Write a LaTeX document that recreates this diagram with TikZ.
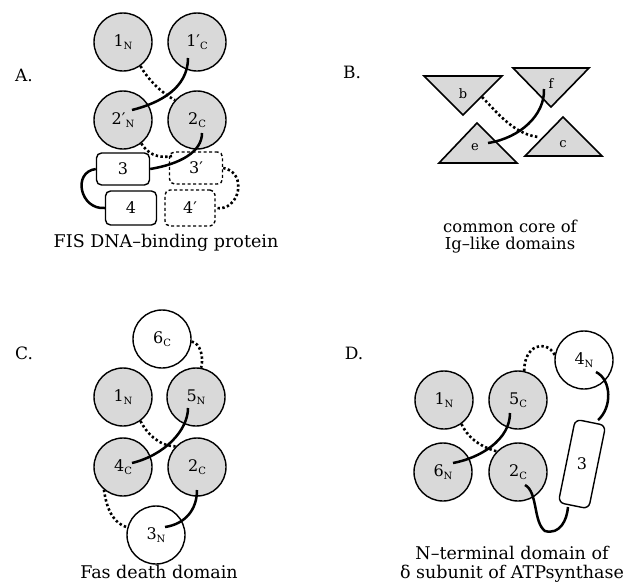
\documentclass[tikz,border=0pt]{standalone}
\usepackage{fontspec}
\setmainfont{DejaVu Serif}
\newcommand{\sbs}[1]{\raisebox{-0.35ex}{\fontsize{10}{10}\selectfont #1}}
\begin{document}
\begin{tikzpicture}[x=1pt,y=-1pt,
  dom/.style={circle, draw, line width=1.4pt, minimum size=58pt, inner sep=0pt, fill=gray!30, font=\fontsize{16}{16}\selectfont},
  wdom/.style={dom, fill=white},
  sbox/.style={draw, rounded corners=5pt, line width=1.4pt, minimum width=53pt, minimum height=32pt, inner sep=0pt, font=\fontsize{16}{16}\selectfont},
  dbox/.style={sbox, dash pattern=on 3pt off 2.5pt},
  lnk/.style={line width=2.5pt},
  dlnk/.style={line width=2.6pt, dash pattern=on 2.4pt off 2.4pt},
  tri/.style={draw, line width=1.6pt, fill=gray!30, line join=miter},
  tlab/.style={font=\fontsize{13}{13}\selectfont, inner sep=0pt},
  plab/.style={font=\fontsize{17}{17}\selectfont, inner sep=0pt},
  captxt/.style={font=\fontsize{17.5}{19}\selectfont, align=center, inner sep=0pt}
]
\useasboundingbox (0,0) rectangle (623,584);

% ---------------- Panel A ----------------
\node[plab] (labA) at (24,75) {A.};
\node[dom] (a1N) at (123,42) {1\sbs{N}};
\node[dom] (a1pC) at (197,42) {1′\sbs{C}};
\node[dom] (a2pN) at (123,120) {2′\sbs{N}};
\node[dom] (a2C) at (197,120) {2\sbs{C}};
\node[sbox] (a3) at (123,169) {3};
\node[sbox, minimum width=51pt, minimum height=34pt] (a4) at (131,208) {4};
\node[dbox] (a3p) at (196,168) {3′};
\node[dbox, minimum width=50pt, minimum height=36pt] (a4p) at (190,208) {4′};
\node[captxt] (capA) at (166,243) {FIS DNA–binding protein};

\coordinate (a1s) at (188,58);
\coordinate (a1e) at (132,110);
\coordinate (a2s) at (202,133);
\coordinate (a3e) at (172,156);
\draw[dlnk] (a1N.-54) .. controls (147,78) and (160,92) .. (a2C.138);
\draw[lnk] (a1s) .. controls (188,88) and (160,103) .. (a1e);
\draw[dlnk] (a2pN.-52) .. controls (147,153) and (157,159) .. (a3e);
\draw[lnk] (a2s) .. controls (202,152) and (180,164) .. (a3.east);
\draw[lnk] (a3.west) .. controls (72,172) and (80,210) .. (a4.west);
\draw[dlnk] (a3p.east) .. controls (248,172) and (240,212) .. (a4p.east);

% ---------------- Panel B ----------------
\node[plab] (labB) at (352,72) {B.};
\draw[tri] (424,76) -- (502,76) -- (463,115) -- cycle;
\draw[tri] (513,68) -- (589,68) -- (551,107) -- cycle;
\draw[tri] (439,163) -- (517,163) -- (477,123) -- cycle;
\draw[tri] (525,156) -- (602,156) -- (563,117) -- cycle;
\node[tlab] (tb) at (463,94) {b};
\node[tlab] (tf) at (551,84) {f};
\node[tlab] (te) at (475,147) {e};
\node[tlab] (tc) at (563,144) {c};
\coordinate (b1s) at (482,97);
\coordinate (b1e) at (538,137);
\coordinate (b2s) at (544,89);
\coordinate (b2e) at (488,143);
\draw[dlnk] (b1s) .. controls (495,110) and (513,134) .. (b1e);
\draw[lnk] (b2s) .. controls (545,115) and (520,138) .. (b2e);
\node[captxt, font=\fontsize{16.4}{17}\selectfont] (capB) at (510,237) {common core of\\Ig–like domains};

% ---------------- Panel C ----------------
\node[plab] (labC) at (24,353) {C.};
\node[wdom] (c6C) at (162,339) {6\sbs{C}};
\node[dom] (c1N) at (123,397) {1\sbs{N}};
\node[dom] (c5N) at (196,397) {5\sbs{N}};
\node[dom] (c4C) at (123,467) {4\sbs{C}};
\node[dom] (c2C) at (197,467) {2\sbs{C}};
\node[wdom] (c3N) at (156,535) {3\sbs{N}};
\node[captxt] (capC) at (159,572) {Fas death domain};

\coordinate (c1s) at (188,408);
\coordinate (c1e) at (132,463);
\coordinate (c2s) at (197,490);
\coordinate (c2e) at (165,527);
\draw[dlnk] (c6C.-5) .. controls (200,343) and (204,356) .. (c5N.80);
\draw[dlnk] (c1N.-54) .. controls (146,432) and (158,446) .. (c2C.136);
\draw[lnk] (c1s) .. controls (188,430) and (165,455) .. (c1e);
\draw[dlnk] (c4C.-130) .. controls (107,512) and (115,524) .. (c3N.165);
\draw[lnk] (c2s) .. controls (197,510) and (185,524) .. (c2e);

% ---------------- Panel D ----------------
\node[plab] (labD) at (354,353) {D.};
\node[dom] (d1N) at (444,400) {1\sbs{N}};
\node[dom] (d5C) at (518,400) {5\sbs{C}};
\node[dom] (d6N) at (443,472) {6\sbs{N}};
\node[dom] (d2C) at (518,472) {2\sbs{C}};
\node[wdom] (d4N) at (584,360) {4\sbs{N}};
\node[draw, rounded corners=6pt, line width=1.4pt, minimum width=31pt, minimum height=85pt, rotate=-11.5] (d3) at (582,464) {};
\node[font=\fontsize{16}{16}\selectfont] (d3t) at (582,464) {3};
\node[captxt] (capD) at (512,564) {N–terminal domain of\\δ subunit of ATPsynthase};

\coordinate (d1s) at (510,413);
\coordinate (d1e) at (453,463);
\coordinate (d2s) at (596,372);
\coordinate (d2e) at (598,420);
\coordinate (d3s) at (525,485);
\coordinate (d3m) at (545,531);
\coordinate (d3e) at (568,507);
\draw[dlnk] (d5C.78) .. controls (524,346) and (545,338) .. (d4N.170);
\draw[dlnk] (d1N.-54) .. controls (467,436) and (478,446) .. (d2C.136);
\draw[lnk] (d1s) .. controls (510,440) and (480,458) .. (d1e);
\draw[lnk] (d2s) .. controls (612,380) and (612,408) .. (d2e);
\draw[lnk] (d3s) .. controls (538,492) and (533,522) .. (d3m) .. controls (560,535) and (567,520) .. (d3e);
\end{tikzpicture}
\end{document}
